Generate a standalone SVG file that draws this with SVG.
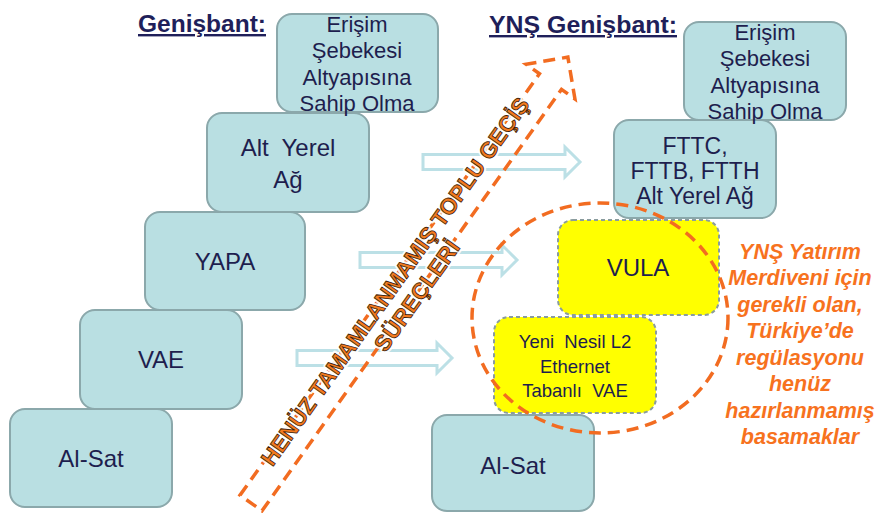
<svg xmlns="http://www.w3.org/2000/svg" width="877" height="513" viewBox="0 0 877 513">
<defs>
<style>
.box{fill:#B9DFE2;stroke:#8BA8AB;stroke-width:2}
.ybox{fill:#FFFF00;stroke:#8A9C9E;stroke-width:2;stroke-dasharray:4 3}
.t{font-family:"Liberation Sans",Arial,sans-serif;font-size:22px;fill:#1E1E4E;text-anchor:middle}
.tb{font-size:24px}
.tm{font-size:23px}
.ts{font-size:18.5px}
.hdr{font-family:"Liberation Sans",Arial,sans-serif;font-size:24px;font-weight:bold;fill:#1F1F5A;text-decoration:underline}
.harrow{fill:#FFFFFF;stroke:#BCE0E6;stroke-width:3;stroke-linejoin:miter}
.odash{fill:none;stroke:#F26C21;stroke-width:3.5;stroke-dasharray:12 7}
.diag{font-family:"Liberation Sans",Arial,sans-serif;font-size:22.5px;font-weight:bold;text-anchor:middle}
.halo{fill:#FFFFFF;stroke:#FFFFFF;stroke-width:5;stroke-linejoin:round;opacity:0.9}
.dfill{fill:#F47B20;stroke:#3A1A05;stroke-width:0.8}
.note{font-family:"Liberation Sans",Arial,sans-serif;font-size:21.5px;font-weight:bold;font-style:italic;fill:#F7721E;text-anchor:middle}
</style>
</defs>
<rect width="877" height="513" fill="#FFFFFF"/>

<g id="headers">
<text class="hdr" x="138" y="32" textLength="128" lengthAdjust="spacingAndGlyphs">Genişbant:</text>
<text class="hdr" x="489" y="33" textLength="188" lengthAdjust="spacingAndGlyphs">YNŞ Genişbant:</text>
</g>

<g id="connectors">
<path class="harrow" transform="translate(580,162)" d="M-157,-7.5 L-15,-7.5 L-15,-15 L0,0 L-15,15 L-15,7.5 L-157,7.5 Z"/>
<path class="harrow" transform="translate(517,260)" d="M-157,-7.5 L-15,-7.5 L-15,-15 L0,0 L-15,15 L-15,7.5 L-157,7.5 Z"/>
<path class="harrow" transform="translate(452,358)" d="M-155,-7.5 L-15,-7.5 L-15,-15 L0,0 L-15,15 L-15,7.5 L-155,7.5 Z"/>
</g>

<g id="n-alsat-left">
<rect class="box" x="10" y="409" width="162" height="98" rx="15"/>
<text class="t tb" x="91" y="467">Al-Sat</text>
</g>
<g id="n-vae">
<rect class="box" x="80" y="310" width="162" height="99" rx="15"/>
<text class="t tb" x="161" y="368">VAE</text>
</g>
<g id="n-yapa">
<rect class="box" x="145" y="212" width="160" height="98" rx="15"/>
<text class="t tb" x="225" y="270">YAPA</text>
</g>
<g id="n-altyerel-left">
<rect class="box" x="207" y="113" width="162" height="99" rx="15"/>
<text class="t tb" x="288" y="156" xml:space="preserve">Alt  Yerel</text>
<text class="t tb" x="288" y="188">Ağ</text>
</g>
<g id="n-erisim-left">
<rect class="box" x="277" y="14" width="161" height="98" rx="15"/>
<text class="t" x="357" y="32">Erişim</text>
<text class="t" x="357" y="58">Şebekesi</text>
<text class="t" x="357" y="85">Altyapısına</text>
<text class="t" x="357" y="111">Sahip Olma</text>
</g>

<g id="n-alsat-right">
<rect class="box" x="432" y="415" width="162" height="96" rx="15"/>
<text class="t tb" x="513" y="474">Al-Sat</text>
</g>
<g id="n-fttx">
<rect class="box" x="614" y="120" width="162" height="98" rx="15"/>
<text class="t tm" x="695" y="154">FTTC,</text>
<text class="t tm" x="695" y="179">FTTB, FTTH</text>
<text class="t tm" x="695" y="204">Alt Yerel Ağ</text>
</g>
<g id="n-erisim-right">
<rect class="box" x="684" y="22" width="162" height="98" rx="15"/>
<text class="t" x="765" y="40">Erişim</text>
<text class="t" x="765" y="66">Şebekesi</text>
<text class="t" x="765" y="93">Altyapısına</text>
<text class="t" x="765" y="119">Sahip Olma</text>
</g>
<g id="n-vula">
<rect class="ybox" x="558" y="220" width="161" height="95" rx="15"/>
<text class="t" x="638" y="276" style="font-size:24px">VULA</text>
</g>
<g id="n-yeni-nesil">
<rect class="ybox" x="494" y="317" width="162" height="96" rx="15"/>
<text class="t ts" x="575" y="348" xml:space="preserve">Yeni  Nesil L2</text>
<text class="t ts" x="575" y="373">Ethernet</text>
<text class="t ts" x="575" y="397" xml:space="preserve">Tabanlı  VAE</text>
</g>

<g id="missing-steps-ellipse">
<ellipse class="odash" cx="600" cy="318" rx="128" ry="115" stroke-dasharray="14 8"/>
</g>

<g id="transition-arrow" transform="translate(251,503) rotate(-54.6)">
<path class="odash" d="M0,-13.5 L517,-13.5 L517,-30 L547,0 L517,30 L517,13.5 L0,13.5 Z"/>
<text class="diag halo" x="264" y="-3">HENÜZ TAMAMLANMAMIŞ TOPLU GEÇİŞ</text>
<text class="diag halo" x="265" y="23">SÜREÇLERİ</text>
<text class="diag dfill" x="264" y="-3">HENÜZ TAMAMLANMAMIŞ TOPLU GEÇİŞ</text>
<text class="diag dfill" x="265" y="23">SÜREÇLERİ</text>
</g>

<g id="note">
<text class="note" x="800" y="259">YNŞ Yatırım</text>
<text class="note" x="800" y="285">Merdiveni için</text>
<text class="note" x="800" y="312">gerekli olan,</text>
<text class="note" x="800" y="338">Türkiye’de</text>
<text class="note" x="800" y="365">regülasyonu</text>
<text class="note" x="800" y="391">henüz</text>
<text class="note" x="800" y="418">hazırlanmamış</text>
<text class="note" x="800" y="444">basamaklar</text>
</g>
</svg>
